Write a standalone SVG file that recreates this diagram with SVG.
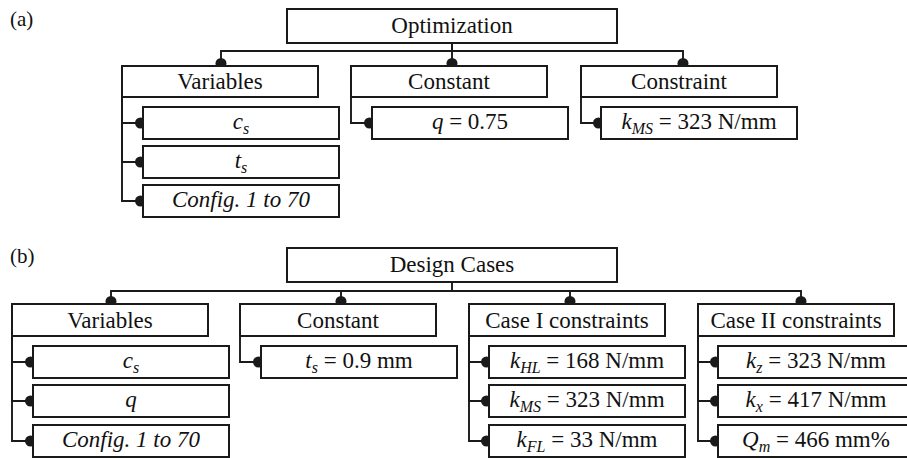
<svg xmlns="http://www.w3.org/2000/svg" width="907" height="458" viewBox="0 0 907 458">
<defs>
<style>
.box{fill:#fff;stroke:#1a1a1a;stroke-width:2}
.wire{fill:none;stroke:#1a1a1a;stroke-width:1.9;marker-end:url(#ball)}
.t{font-family:"Liberation Serif","Times New Roman",serif;font-size:23px;text-anchor:middle;fill:#111}
.lbl{font-family:"Liberation Serif","Times New Roman",serif;font-size:21px;fill:#111}
.i{font-style:italic}
.sub{font-style:italic;font-size:16px}
</style>
<marker id="ball" viewBox="-10 -7 16 14" refX="0" refY="0" markerWidth="16" markerHeight="14" markerUnits="userSpaceOnUse" orient="auto" overflow="visible">
<circle cx="-2.5" cy="0" r="5.5" fill="#1a1a1a"/>
</marker>
</defs>
<rect width="907" height="458" fill="#fff"/>
<text class="lbl" x="10" y="26">(a)</text>
<text class="lbl" x="10" y="263">(b)</text>
<g id="connectors">
<path class="wire" d="M452,43 V51 H221 V66"/>
<path class="wire" d="M452,43 V66"/>
<path class="wire" d="M452,51 H683 V66"/>
<path class="wire" d="M122,97 V123 H143"/>
<path class="wire" d="M122,97 V162 H143"/>
<path class="wire" d="M122,97 V201 H143"/>
<path class="wire" d="M351,97 V123 H372"/>
<path class="wire" d="M581,97 V123 H601"/>
<path class="wire" d="M452,282 V291 H111 V304"/>
<path class="wire" d="M452,291 H341 V304"/>
<path class="wire" d="M452,291 H570 V304"/>
<path class="wire" d="M452,291 H801 V304"/>
<path class="wire" d="M12,336 V362 H33"/>
<path class="wire" d="M12,336 V401 H33"/>
<path class="wire" d="M12,336 V441 H33"/>
<path class="wire" d="M240,336 V362 H261"/>
<path class="wire" d="M469,336 V362 H489"/>
<path class="wire" d="M469,336 V401 H489"/>
<path class="wire" d="M469,336 V441 H489"/>
<path class="wire" d="M698,336 V362 H718"/>
<path class="wire" d="M698,336 V401 H718"/>
<path class="wire" d="M698,336 V441 H718"/>
</g>
<g id="optimization"><rect class="box" x="287" y="9" width="330" height="34"/><text class="t" x="452" y="33">Optimization</text></g>
<g id="a-variables"><rect class="box" x="122" y="66" width="196" height="31"/><text class="t" x="220" y="89">Variables</text></g>
<g id="a-constant"><rect class="box" x="351" y="66" width="196" height="31"/><text class="t" x="449" y="89">Constant</text></g>
<g id="a-constraint"><rect class="box" x="581" y="66" width="196" height="31"/><text class="t" x="679" y="89">Constraint</text></g>
<g id="a-cs"><rect class="box" x="143" y="107" width="196" height="32"/><text class="t" x="241" y="129"><tspan class="i">c</tspan><tspan class="sub" dy="5">s</tspan></text></g>
<g id="a-ts"><rect class="box" x="143" y="146" width="196" height="32"/><text class="t" x="241" y="168"><tspan class="i">t</tspan><tspan class="sub" dy="5">s</tspan></text></g>
<g id="a-config"><rect class="box" x="143" y="185" width="196" height="32"/><text class="t i" x="241" y="207">Config. 1 to 70</text></g>
<g id="a-q"><rect class="box" x="372" y="107" width="196" height="32"/><text class="t" x="470" y="129"><tspan class="i">q</tspan> = 0.75</text></g>
<g id="a-kms"><rect class="box" x="601" y="107" width="196" height="32"/><text class="t" x="699" y="129"><tspan class="i">k</tspan><tspan class="sub" dy="5">MS</tspan><tspan dy="-5"> = 323 N/mm</tspan></text></g>
<g id="design-cases"><rect class="box" x="287" y="248" width="330" height="34"/><text class="t" x="452" y="271.5">Design Cases</text></g>
<g id="b-variables"><rect class="box" x="12" y="304" width="196" height="32"/><text class="t" x="110" y="327.5">Variables</text></g>
<g id="b-constant"><rect class="box" x="240" y="304" width="196" height="32"/><text class="t" x="338" y="327.5">Constant</text></g>
<g id="b-case1"><rect class="box" x="469" y="304" width="196" height="32"/><text class="t" x="567" y="327.5">Case I constraints</text></g>
<g id="b-case2"><rect class="box" x="698" y="304" width="196" height="32"/><text class="t" x="796" y="327.5">Case II constraints</text></g>
<g id="b-cs"><rect class="box" x="33" y="346" width="196" height="32"/><text class="t" x="131" y="368"><tspan class="i">c</tspan><tspan class="sub" dy="5">s</tspan></text></g>
<g id="b-q"><rect class="box" x="33" y="385" width="196" height="32"/><text class="t i" x="131" y="407">q</text></g>
<g id="b-config"><rect class="box" x="33" y="425" width="196" height="32"/><text class="t i" x="131" y="446.5">Config. 1 to 70</text></g>
<g id="b-ts"><rect class="box" x="261" y="346" width="196" height="32"/><text class="t" x="359" y="368"><tspan class="i">t</tspan><tspan class="sub" dy="5">s</tspan><tspan dy="-5"> = 0.9 mm</tspan></text></g>
<g id="b-khl"><rect class="box" x="489" y="346" width="196" height="32"/><text class="t" x="587" y="368"><tspan class="i">k</tspan><tspan class="sub" dy="5">HL</tspan><tspan dy="-5"> = 168 N/mm</tspan></text></g>
<g id="b-kms"><rect class="box" x="489" y="385" width="196" height="32"/><text class="t" x="587" y="407"><tspan class="i">k</tspan><tspan class="sub" dy="5">MS</tspan><tspan dy="-5"> = 323 N/mm</tspan></text></g>
<g id="b-kfl"><rect class="box" x="489" y="425" width="196" height="32"/><text class="t" x="587" y="446.5"><tspan class="i">k</tspan><tspan class="sub" dy="5">FL</tspan><tspan dy="-5"> = 33 N/mm</tspan></text></g>
<g id="b-kz"><rect class="box" x="718" y="346" width="196" height="32"/><text class="t" x="816" y="368"><tspan class="i">k</tspan><tspan class="sub" dy="5">z</tspan><tspan dy="-5"> = 323 N/mm</tspan></text></g>
<g id="b-kx"><rect class="box" x="718" y="385" width="196" height="32"/><text class="t" x="816" y="407"><tspan class="i">k</tspan><tspan class="sub" dy="5">x</tspan><tspan dy="-5"> = 417 N/mm</tspan></text></g>
<g id="b-qm"><rect class="box" x="718" y="425" width="196" height="32"/><text class="t" x="816" y="446.5"><tspan class="i">Q</tspan><tspan class="sub" dy="5">m</tspan><tspan dy="-5"> = 466 mm%</tspan></text></g>
</svg>
